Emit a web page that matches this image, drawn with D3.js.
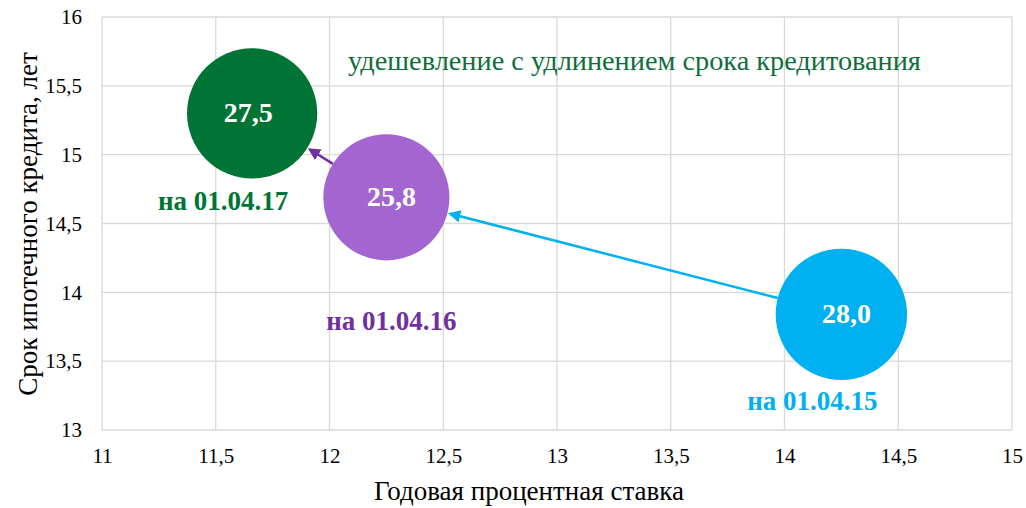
<!DOCTYPE html>
<html lang="ru">
<head>
  <meta charset="UTF-8">
  <title>Срок и ставка ипотечного кредита</title>
  <script src="https://d3js.org/d3.v7.min.js"></script>
  <style>
    body { margin: 0; background: #fff; }
    svg text { font-family: "Liberation Serif", "Times New Roman", serif; }
    .grid line { stroke: #d9d9d9; stroke-width: 1.3; }
    .axis text { font-size: 21px; fill: #000; }
    .axis path, .axis line { display: none; }
  </style>
</head>
<body>
<div id="chart"></div>
<script>
  // данные
  const dates = ["на 01.04.15", "на 01.04.16", "на 01.04.17"];
  const rates = [14.25, 12.25, 11.66];      // годовая ставка, %
  const terms = [13.84, 14.69, 15.30];      // срок, лет
  const sizes = [28.0, 25.8, 27.5];         // размер пузыря
  const sizeLabels = ["28,0", "25,8", "27,5"];
  const bubbleColors = ["#00b0f0", "#a366d0", "#007434"];
  const textColors = ["#00b0f0", "#7030a0", "#007434"];
  const xTicks = [11, 11.5, 12, 12.5, 13, 13.5, 14, 14.5, 15];
  const yTicks = [13, 13.5, 14, 14.5, 15, 15.5, 16];
  const note = "удешевление с удлинением срока кредитования";

  const width = 1026, height = 508;
  const margin = {top: 17, right: 14, bottom: 78, left: 102};

  const svg = d3.select("#chart").append("svg")
    .attr("width", width).attr("height", height);

  const x = d3.scaleLinear().domain([11, 15]).range([margin.left, width - margin.right]);
  const y = d3.scaleLinear().domain([13, 16]).range([height - margin.bottom, margin.top]);
  const r = d3.scaleSqrt().domain([0, 28]).range([0, 65.7]);

  const fmt = d => String(d).replace(".", ",");

  // сетка
  const grid = svg.append("g").attr("class", "grid");
  grid.selectAll(".gx").data(xTicks).enter().append("line")
    .attr("x1", d => x(d)).attr("x2", d => x(d))
    .attr("y1", y(13)).attr("y2", y(16));
  grid.selectAll(".gy").data(yTicks).enter().append("line")
    .attr("x1", x(11)).attr("x2", x(15))
    .attr("y1", d => y(d)).attr("y2", d => y(d));

  // оси
  svg.append("g").attr("class", "axis")
    .attr("transform", `translate(0,${y(13)})`)
    .call(d3.axisBottom(x).tickValues(xTicks).tickFormat(fmt).tickSize(0).tickPadding(18))
    .attr("font-family", null);
  svg.append("g").attr("class", "axis")
    .attr("transform", `translate(${x(11)},0)`)
    .call(d3.axisLeft(y).tickValues(yTicks).tickFormat(fmt).tickSize(0).tickPadding(20))
    .attr("font-family", null);

  // подписи осей
  svg.append("text")
    .attr("x", 529).attr("y", 500)
    .attr("text-anchor", "middle").attr("font-size", 27)
    .text("Годовая процентная ставка");
  svg.append("text")
    .attr("transform", `translate(37,224) rotate(-90)`)
    .attr("text-anchor", "middle").attr("font-size", 27)
    .text("Срок ипотечного кредита, лет");

  // стрелки
  const arrowColors = ["#00b0f0", "#7030a0"];
  const defs = svg.append("defs");
  arrowColors.forEach((c, i) => {
    defs.append("marker").attr("id", "arr" + i)
      .attr("viewBox", "0 0 10 10").attr("refX", 8).attr("refY", 5)
      .attr("markerWidth", 5).attr("markerHeight", 5).attr("orient", "auto")
      .append("path").attr("d", "M0,0 L10,5 L0,10 z").attr("fill", c);
  });
  for (let i = 0; i < 2; i++) {
    const x0 = x(rates[i]), y0 = y(terms[i]);
    const x1 = x(rates[i + 1]), y1 = y(terms[i + 1]);
    const len = Math.hypot(x1 - x0, y1 - y0);
    const ux = (x1 - x0) / len, uy = (y1 - y0) / len;
    const r0 = r(sizes[i]), r1 = r(sizes[i + 1]) + 3;
    svg.append("line")
      .attr("x1", x0 + ux * r0).attr("y1", y0 + uy * r0)
      .attr("x2", x1 - ux * r1).attr("y2", y1 - uy * r1)
      .attr("stroke", arrowColors[i]).attr("stroke-width", 2.5)
      .attr("marker-end", `url(#arr${i})`);
  }

  // пузыри
  const idx = d3.range(dates.length);
  svg.selectAll(".bubble").data(idx).enter().append("circle")
    .attr("cx", i => x(rates[i])).attr("cy", i => y(terms[i]))
    .attr("r", i => r(sizes[i])).attr("fill", i => bubbleColors[i]);

  const valShift = [5, 5, -4];
  svg.selectAll(".val").data(idx).enter().append("text")
    .attr("x", i => x(rates[i]) + valShift[i]).attr("y", i => y(terms[i]) + 9)
    .attr("text-anchor", "middle").attr("font-size", 28).attr("font-weight", "bold")
    .attr("fill", "#fff").text(i => sizeLabels[i]);

  // подписи дат
  const labelPos = [[-29, 96], [5, 133], [-29, 97]];
  svg.selectAll(".date").data(idx).enter().append("text")
    .attr("x", i => x(rates[i]) + labelPos[i][0])
    .attr("y", i => y(terms[i]) + labelPos[i][1])
    .attr("text-anchor", "middle").attr("font-size", 27).attr("font-weight", "bold")
    .attr("fill", i => textColors[i]).text(i => dates[i]);

  svg.append("text")
    .attr("x", 348).attr("y", 70).attr("font-size", 28.3)
    .attr("fill", "#0f6e3c").text(note);
</script>
</body>
</html>
